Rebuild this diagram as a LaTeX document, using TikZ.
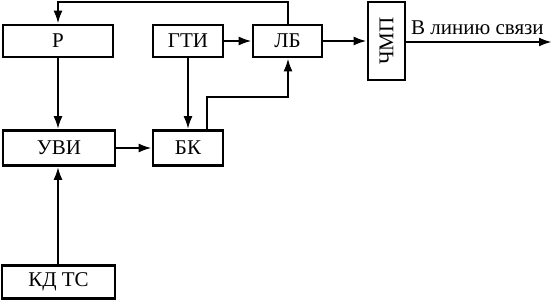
\documentclass[tikz,border=0pt]{standalone}
\usepackage{fontspec}
\setmainfont{Liberation Serif}
\usetikzlibrary{arrows.meta}
\begin{document}
\begin{tikzpicture}[x=1pt,y=-1pt,
  blk/.style={draw,line width=2.6pt,inner sep=0pt,font=\fontsize{21}{23}\selectfont},
  conn/.style={line width=2.4pt,-{Latex[length=13pt,width=9pt]}}]
\useasboundingbox (0,0) rectangle (552,302);
\node[blk,minimum width=110pt,minimum height=32pt] (R) at (58,41) {Р};
\node[blk,minimum width=70pt,minimum height=32pt] (GTI) at (188,41) {ГТИ};
\node[blk,minimum width=69pt,minimum height=32pt] (LB) at (287.5,41) {ЛБ};
\node[blk,minimum width=37pt,minimum height=78pt] (CHMP) at (386.5,41) {};
\node[font=\fontsize{21}{23}\selectfont,rotate=90] (chmpt) at (CHMP.center) {ЧМП};
\node[blk,minimum width=112pt,minimum height=35pt] (UVI) at (59,148) {УВИ};
\node[blk,minimum width=70pt,minimum height=35pt] (BK) at (188,148) {БК};
\node[blk,minimum width=113pt,minimum height=33pt] (KD) at (58.5,282) {КД ТС};
\coordinate (out) at (552,42);
\node[anchor=south west,inner sep=0pt,font=\fontsize{21}{23}\selectfont] (lbl) at (411,35) {В линию связи};
\coordinate (top) at (288,2);
\coordinate (mid) at (207,97);
\draw[conn] (LB.north -| top) -- (top) -- (top -| R.north) -- (R.north);
\draw[conn] (R.south) -- (R.south |- UVI.north);
\draw[conn] (GTI.east) -- (LB.west);
\draw[conn] (GTI.south) -- (BK.north);
\draw[conn] (UVI.east) -- (BK.west);
\draw[conn] (BK.north -| mid) -- (mid) -- (mid -| top) -- (LB.south -| top);
\draw[conn] (KD.north -| R.south) -- (UVI.south -| R.south);
\draw[conn] (LB.east) -- (CHMP.west |- LB.east);
\draw[conn] (CHMP.east |- out) -- (out);
\end{tikzpicture}
\end{document}
